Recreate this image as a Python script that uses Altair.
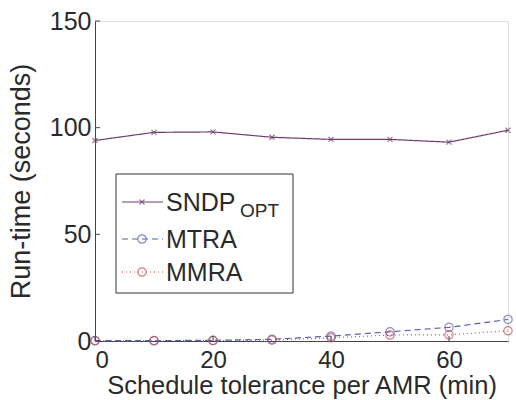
import altair as alt
import pandas as pd

# ---- data ----
x_vals = [0, 10, 20, 30, 40, 50, 60, 70]
sndp_opt = [94.0, 97.8, 98.0, 95.5, 94.5, 94.5, 93.2, 98.8]
mtra = [0.2, 0.2, 0.3, 0.8, 2.3, 4.3, 6.4, 10.1]
mmra = [0.1, 0.1, 0.2, 0.4, 1.5, 2.8, 2.9, 4.8]

series_names = ["SNDP_OPT", "MTRA", "MMRA"]
legend_main = ["SNDP", "MTRA", "MMRA"]
legend_sub = "OPT"
series_colors = ["#6e3d6e", "#5a5fb0", "#c84a55"]
series_dash = [[1, 0], [6, 4], [1, 3]]

x_ticks = [0, 20, 40, 60]
y_ticks = [0, 50, 100, 150]
x_title = "Schedule tolerance per AMR (min)"
y_title = "Run-time (seconds)"

FONT = "Liberation Sans"
TXT = "#2a2a2a"
AX = "#444444"

rows = []
for name, vals in zip(series_names, [sndp_opt, mtra, mmra]):
    for x, y in zip(x_vals, vals):
        rows.append({"x": x, "y": y, "series": name})
df = pd.DataFrame(rows)

xscale = alt.Scale(domain=[0, 70], nice=False, zero=False)
yscale = alt.Scale(domain=[0, 150], nice=False)
cscale = alt.Scale(domain=series_names, range=series_colors)
dscale = alt.Scale(domain=series_names, range=series_dash)

xaxis = alt.Axis(values=x_ticks, ticks=False, grid=False, domainColor=AX,
                 labelFontSize=24, labelColor=TXT, labelFont=FONT, labelPadding=7,
                 title=x_title, titleFontSize=25.5, titleFont=FONT, titleColor=TXT,
                 titleFontWeight="normal", titlePadding=1)
yaxis = alt.Axis(values=y_ticks, ticks=False, grid=False, domainColor=AX,
                 labelFontSize=25, labelColor=TXT, labelFont=FONT, labelPadding=4,
                 title=y_title, titleFontSize=27, titleFont=FONT, titleColor=TXT,
                 titleFontWeight="normal", titlePadding=14)

base = alt.Chart(df)

lines = base.mark_line(strokeWidth=1.2).encode(
    x=alt.X("x:Q", scale=xscale, axis=xaxis),
    y=alt.Y("y:Q", scale=yscale, axis=yaxis),
    color=alt.Color("series:N", scale=cscale, legend=None),
    strokeDash=alt.StrokeDash("series:N", scale=dscale, legend=None),
)

circles = base.transform_filter(
    alt.FieldOneOfPredicate(field="series", oneOf=series_names[1:])
).mark_point(shape="circle", filled=False, size=70, strokeWidth=1.2).encode(
    x=alt.X("x:Q", scale=xscale),
    y=alt.Y("y:Q", scale=yscale),
    color=alt.Color("series:N", scale=cscale, legend=None),
)

XSHAPE = "M-1,-1L1,1M-1,1L1,-1"
crosses = base.transform_filter(
    alt.FieldEqualPredicate(field="series", equal=series_names[0])
).mark_point(shape=XSHAPE, filled=False, size=25, strokeWidth=1.2).encode(
    x=alt.X("x:Q", scale=xscale),
    y=alt.Y("y:Q", scale=yscale),
    color=alt.Color("series:N", scale=cscale, legend=None),
)

# inward ticks
xt = alt.Chart(pd.DataFrame({"t": x_ticks})).mark_rule(color=AX).encode(
    x=alt.X("t:Q", scale=xscale), y=alt.value(320), y2=alt.value(315))
yt = alt.Chart(pd.DataFrame({"t": y_ticks})).mark_rule(color=AX).encode(
    y=alt.Y("t:Q", scale=yscale), x=alt.value(0), x2=alt.value(5))

# manual legend
one = pd.DataFrame({"a": [0]})
box = alt.Chart(one).mark_rect(fill="white", stroke="#333333", strokeWidth=1).encode(
    x=alt.value(21), x2=alt.value(198), y=alt.value(153), y2=alt.value(272))

legend_layers = [box]
ys = [181, 218, 251]
shapes = [XSHAPE, "circle", "circle"]
sizes = [25, 70, 70]
for i in range(3):
    legend_layers.append(
        alt.Chart(one).mark_rule(color=series_colors[i], strokeWidth=1.2,
                                 strokeDash=series_dash[i]).encode(
            x=alt.value(27), x2=alt.value(68), y=alt.value(ys[i])))
    legend_layers.append(
        alt.Chart(one).mark_point(shape=shapes[i], filled=False, size=sizes[i],
                                  strokeWidth=1.2, color=series_colors[i]).encode(
            x=alt.value(47), y=alt.value(ys[i])))
    legend_layers.append(
        alt.Chart(pd.DataFrame({"label": [legend_main[i]]})).mark_text(
            align="left", baseline="middle", fontSize=25, font=FONT, color=TXT).encode(
            x=alt.value(71), y=alt.value(ys[i] + 1), text="label:N"))
legend_layers.append(
    alt.Chart(pd.DataFrame({"label": [legend_sub]})).mark_text(
        align="left", baseline="middle", fontSize=19, font=FONT, color=TXT).encode(
        x=alt.value(145), y=alt.value(190), text="label:N"))

chart = alt.layer(lines, circles, crosses, xt, yt, *legend_layers).properties(
    width=413, height=320,
    autosize=alt.AutoSizeParams(type="none"),
    padding={"left": 95, "top": 21, "right": 8, "bottom": 59},
).configure_view(stroke=None).configure(background="white")

chart.save("out.html", embed_options={"renderer": "svg", "actions": False})
